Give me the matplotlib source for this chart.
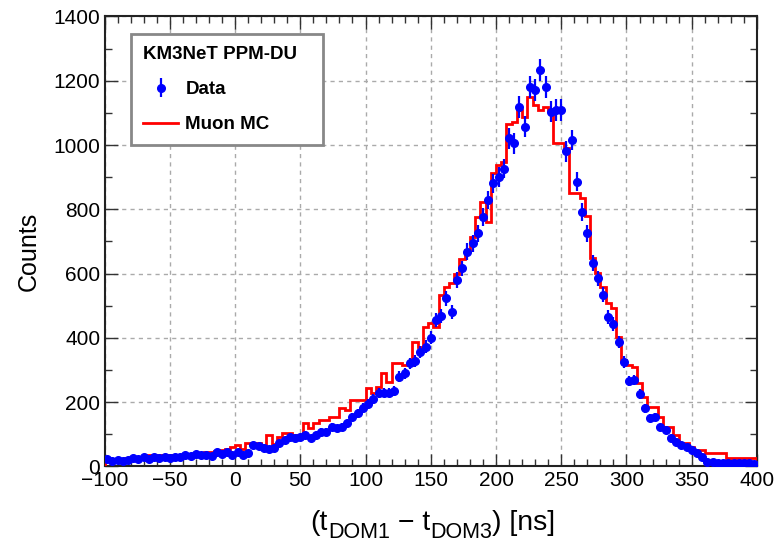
import numpy as np
import matplotlib
matplotlib.use("Agg")
import matplotlib.pyplot as plt
from matplotlib.lines import Line2D
from matplotlib.ticker import MultipleLocator
from matplotlib.transforms import IdentityTransform

# ---- data (4 ns bins from -100 to 400 ns) ----
bin_lo, bin_hi, bin_w = -100, 400, 4

data_counts = [
    22, 18, 20, 17, 21, 25, 23, 28, 24, 30, 27, 29, 26, 31, 30, 36, 33, 38, 35, 37, 34, 44, 40, 45, 37,
    46, 36, 43, 67, 64, 57, 53, 57, 72, 82, 93, 88, 93, 98, 88, 98, 108, 108, 124, 119, 124, 134, 155, 165, 183,
    195, 210, 228, 230, 230, 235, 279, 290, 321, 328, 357, 373, 400, 455, 468, 523, 481, 580, 616, 668, 694, 725, 777, 829, 881,
    901, 927, 1021, 1005, 1119, 1057, 1181, 1171, 1233, 1181, 1104, 1109, 1109, 980, 1016, 886, 793, 725, 632, 585, 535, 466, 443, 387, 326,
    266, 269, 226, 181, 150, 155, 122, 113, 88, 77, 67, 60, 51, 42, 30, 15, 13, 12, 12, 11, 12, 10, 11, 10, 9,
]

mc_counts = [
    20, 22, 20, 22, 25, 25, 28, 30, 35, 35,
    35, 33, 35, 32, 35, 38, 36, 40, 42, 46,
    46, 48, 50, 55, 62,
    67, 55, 72, 70, 72, 68, 98, 70, 93, 103,
    103, 98, 98, 134, 119, 134, 145, 145, 155, 155,
    181, 176, 207, 207, 207, 243, 228, 248, 290, 264,
    321, 321, 316, 316, 388, 373, 435, 445, 435, 533,
    559, 570, 600, 647, 673, 715, 777, 824, 761, 912,
    938, 948, 1067, 1072, 1109, 1088, 1150, 1124, 1109, 1119,
    1109, 1005, 1005, 990, 850, 850, 834, 780, 650, 601,
    559, 508, 492, 404, 331, 316, 310, 259, 217, 186,
    186, 155, 124, 124, 98, 72, 72, 60, 51, 51,
    41, 41, 41, 41, 25, 25, 25, 25, 25, 25,
]

legend_title = "KM3NeT PPM-DU"
label_data = "Data"
label_mc = "Muon MC"
# x label pieces: (text, is_subscript)
xlabel_parts = [("(t", False), ("DOM1", True), (" \u2212 t", False), ("DOM3", True), (") [ns]", False)]
ylabel = "Counts"

# ---- figure ----
plt.rcParams["font.family"] = ["Liberation Sans", "DejaVu Sans"]

fig = plt.figure(figsize=(7.8, 5.42), dpi=100)
ax = fig.add_axes([0.134, 0.1393, 0.8365, 0.8303])

edges = np.arange(bin_lo, bin_hi + bin_w, bin_w)
centers = 0.5 * (edges[:-1] + edges[1:])
data = np.array(data_counts, dtype=float)
mc = np.array(mc_counts, dtype=float)

ax.stairs(mc, edges, color="#ff0000", lw=2.0, zorder=3)
ax.errorbar(centers, data, yerr=np.sqrt(data), fmt="o", color="#0000ff",
            ms=5.5, elinewidth=1.6, capsize=0, zorder=4)

ax.set_xlim(bin_lo, bin_hi)
ax.set_ylim(0, 1400)

ax.xaxis.set_major_locator(MultipleLocator(50))
ax.xaxis.set_minor_locator(MultipleLocator(10))
ax.yaxis.set_major_locator(MultipleLocator(200))
ax.yaxis.set_minor_locator(MultipleLocator(100))
ax.tick_params(which="both", direction="in", top=True, right=True, width=1.0, color="#333333")
ax.tick_params(which="major", length=9, labelsize=15, pad=3)
ax.tick_params(which="minor", length=5)

ax.grid(True, which="major", color="#aaaaaa", linestyle=(0, (3, 3)), lw=1.0, zorder=0)
for s in ax.spines.values():
    s.set_linewidth(1.5)
    s.set_color("#222222")

ax.set_ylabel(ylabel, fontsize=18)
ax.yaxis.set_label_coords(-0.097, 0.477)

# composite x label with large subscripts
main_fs, sub_fs = 20.5, 15.5
fig.canvas.draw()
renderer = fig.canvas.get_renderer()
pieces = []
for txt, sub in xlabel_parts:
    t = fig.text(0, 0, txt, fontsize=sub_fs if sub else main_fs, transform=IdentityTransform(),
                 ha="left", va="baseline")
    pieces.append((t, sub))
widths = [t.get_window_extent(renderer).width for t, _ in pieces]
total = sum(widths)
ax_bb = ax.get_window_extent(renderer)
x = 0.5 * (ax_bb.x0 + ax_bb.x1) + 2 - total / 2
base_y = 542 - 530
for (t, sub), w in zip(pieces, widths):
    t.set_position((x, base_y - (8 if sub else 0)))
    x += w

leg = ax.legend([ax.errorbar([], [], yerr=[], fmt="o", color="#0000ff", ms=5.5, elinewidth=1.6, capsize=0),
                 Line2D([], [], color="#ff0000", lw=2.0)],
                [label_data, label_mc], title=legend_title,
                loc="upper left", bbox_to_anchor=(0.0406, 0.711, 0.294, 0.25), mode="expand",
                prop={"weight": "bold", "size": 13.5},
                title_fontproperties={"weight": "bold", "size": 13.5},
                alignment="left", frameon=True, fancybox=False,
                edgecolor="#888888", framealpha=1.0, borderpad=0.65,
                labelspacing=0.95, handlelength=1.85, handletextpad=0.4,
                borderaxespad=0)
leg.get_frame().set_linewidth(2.0)
leg.set_zorder(5)

fig.savefig("out.png", dpi=100)
